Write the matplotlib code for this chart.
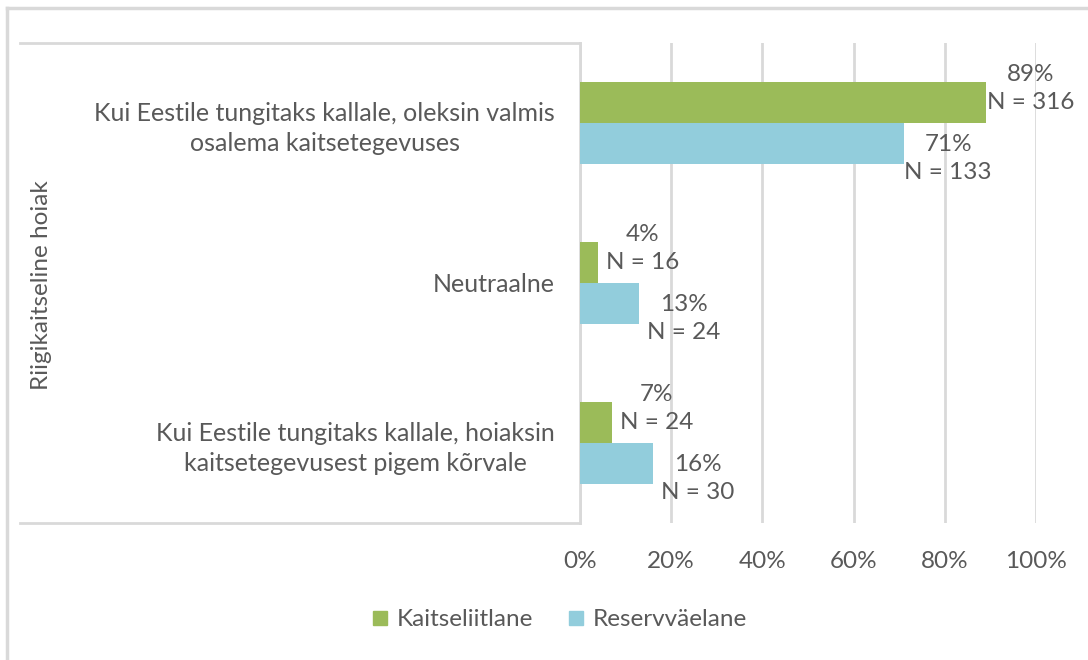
import matplotlib.pyplot as plt
from matplotlib.lines import Line2D
from matplotlib.patches import Patch

categories = [
    "Kui Eestile tungitaks kallale, oleksin valmis\nosalema kaitsetegevuses",
    "Neutraalne",
    "Kui Eestile tungitaks kallale, hoiaksin\nkaitsetegevusest pigem kõrvale",
]
series_names = ["Kaitseliitlane", "Reservväelane"]
kaitseliitlane = [0.89, 0.04, 0.07]
kaitseliitlane_n = [316, 16, 24]
reservvaelane = [0.71, 0.13, 0.16]
reservvaelane_n = [133, 24, 30]
tick_values = [0, 0.2, 0.4, 0.6, 0.8, 1.0]
tick_labels = ["0%", "20%", "40%", "60%", "80%", "100%"]
axis_title = "Riigikaitseline hoiak"

GREEN = "#9BBB59"
BLUE = "#92CDDC"
TEXT = "#595959"
LINE = "#D9D9D9"

plt.rcParams["font.family"] = ["Lato", "DejaVu Sans"]
fs = 17.5

fig = plt.figure(figsize=(10.88, 6.6), dpi=100)
ax = fig.add_axes([580 / 1088, 1 - 523 / 660, 456 / 1088, 480 / 660])

y = [2, 1, 0]
h = 0.256
ax.barh([v + h / 2 for v in y], kaitseliitlane, height=h, color=GREEN, zorder=3)
ax.barh([v - h / 2 for v in y], reservvaelane, height=h, color=BLUE, zorder=3)

for yi, val, n in zip(y, kaitseliitlane, kaitseliitlane_n):
    ax.annotate(f"{val:.0%}\nN = {n}", (val, yi + h / 2), xytext=(32, 10),
                textcoords="offset points", ha="center", va="center",
                fontsize=fs, color=TEXT, linespacing=1.4)
for yi, val, n in zip(y, reservvaelane, reservvaelane_n):
    ax.annotate(f"{val:.0%}\nN = {n}", (val, yi - h / 2), xytext=(32, -11),
                textcoords="offset points", ha="center", va="center",
                fontsize=fs, color=TEXT, linespacing=1.4)

ax.set_xlim(0, 1)
ax.set_ylim(-0.5, 2.5)
ax.set_xticks(tick_values)
ax.set_xticklabels(tick_labels)
ax.set_yticks(y)
ax.set_yticklabels(categories, ha="right", multialignment="center", linespacing=1.35)
ax.tick_params(axis="x", length=0, pad=20, labelsize=fs, labelcolor=TEXT)
ax.tick_params(axis="y", length=0, pad=18, labelsize=18, labelcolor=TEXT)
ax.grid(axis="x", color=LINE, linewidth=2, zorder=0)
for side in ["top", "right", "bottom"]:
    ax.spines[side].set_visible(False)
ax.spines["left"].set_color(LINE)
ax.spines["left"].set_linewidth(2)

# box around the category labels
x0 = (20 - 580) / 456
ax.plot([x0, 0], [1, 1], transform=ax.transAxes, color=LINE, lw=2, clip_on=False)
ax.plot([x0, 0], [0, 0], transform=ax.transAxes, color=LINE, lw=2, clip_on=False)

fig.text(42 / 1088, 1 - 285 / 660, axis_title, rotation=90, ha="center",
         va="center", fontsize=fs, color=TEXT)

# outer chart border
fig.add_artist(Line2D([7 / 1088, 1.2], [1 - 8 / 660] * 2, color=LINE, lw=2.5))
fig.add_artist(Line2D([7 / 1088] * 2, [1 - 8 / 660, -0.2], color=LINE, lw=2.5))

handles = [Patch(color=GREEN), Patch(color=BLUE)]
fig.legend(handles, series_names, loc="center", bbox_to_anchor=(560 / 1088, 1 - 620 / 660),
           ncol=2, frameon=False, fontsize=fs, labelcolor=TEXT,
           handlelength=0.55, handleheight=0.55, handletextpad=0.4, columnspacing=1.5)

fig.savefig("out.png", dpi=100)
